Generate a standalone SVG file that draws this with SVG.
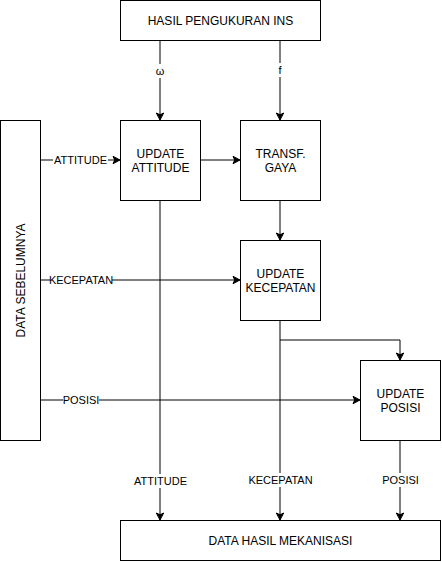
<svg xmlns="http://www.w3.org/2000/svg" width="442" height="562" viewBox="0 0 442 562">
<style>
.box{fill:#fff;stroke:#000;stroke-width:1}
.t{font-family:"Liberation Sans",Arial,sans-serif;font-size:12px;fill:#000;text-anchor:middle}
.l{font-family:"Liberation Sans",Arial,sans-serif;font-size:11px;fill:#000;text-anchor:middle}
.c{fill:none;stroke:#000;stroke-width:1}
.bg{fill:#fff}
</style>
<defs>
<marker id="ar" markerUnits="userSpaceOnUse" markerWidth="10" markerHeight="10" viewBox="-8 -5 9 10" refX="0" refY="0" orient="auto">
<path d="M0,0 L-7,-3.7 L-5.3,0 L-7,3.7 Z" fill="#000" stroke="#000" stroke-width="1"/>
</marker>
</defs>
<g id="connectors">
<path class="c" d="M160,40 V120" marker-end="url(#ar)"/>
<path class="c" d="M280,40 V120" marker-end="url(#ar)"/>
<path class="c" d="M40,160 H120" marker-end="url(#ar)"/>
<path class="c" d="M200,160 H240" marker-end="url(#ar)"/>
<path class="c" d="M280,200 V240" marker-end="url(#ar)"/>
<path class="c" d="M40,280 H240" marker-end="url(#ar)"/>
<path class="c" d="M40,400 H360" marker-end="url(#ar)"/>
<path class="c" d="M160,200 V520" marker-end="url(#ar)"/>
<path class="c" d="M280,320 V520" marker-end="url(#ar)"/>
<path class="c" d="M280,340 H400 V360" marker-end="url(#ar)"/>
<path class="c" d="M400,440 V520" marker-end="url(#ar)"/>
<rect class="bg" x="155" y="64" width="10" height="14"/>
<text class="l" x="160" y="75">ω</text>
<rect class="bg" x="277" y="63" width="6" height="14"/>
<text class="l" x="280" y="74">f</text>
<rect class="bg" x="53" y="153" width="55" height="14"/>
<text class="l" x="80.5" y="164">ATTITUDE</text>
<rect class="bg" x="50" y="273" width="62" height="14"/>
<text class="l" x="81" y="284">KECEPATAN</text>
<rect class="bg" x="63" y="393" width="36" height="14"/>
<text class="l" x="81" y="404">POSISI</text>
<rect class="bg" x="133" y="474" width="55" height="14"/>
<text class="l" x="160.5" y="485">ATTITUDE</text>
<rect class="bg" x="249" y="473" width="63" height="14"/>
<text class="l" x="280.5" y="484">KECEPATAN</text>
<rect class="bg" x="382" y="473" width="36" height="14"/>
<text class="l" x="400.5" y="484">POSISI</text>
</g>
<g id="hasil-pengukuran-ins">
<rect class="box" x="120.5" y="0.5" width="200" height="40"/>
<text class="t" x="220.5" y="25">HASIL PENGUKURAN INS</text>
</g>
<g id="update-attitude">
<rect class="box" x="120.5" y="120.5" width="80" height="80"/>
<text class="t" x="160.5" y="158">UPDATE</text>
<text class="t" x="160.5" y="172">ATTITUDE</text>
</g>
<g id="transf-gaya">
<rect class="box" x="240.5" y="120.5" width="80" height="80"/>
<text class="t" x="280.5" y="158">TRANSF.</text>
<text class="t" x="280.5" y="172">GAYA</text>
</g>
<g id="update-kecepatan">
<rect class="box" x="240.5" y="240.5" width="80" height="80"/>
<text class="t" x="280.5" y="278">UPDATE</text>
<text class="t" x="280.5" y="292">KECEPATAN</text>
</g>
<g id="update-posisi">
<rect class="box" x="360.5" y="360.5" width="80" height="80"/>
<text class="t" x="400.5" y="398">UPDATE</text>
<text class="t" x="400.5" y="412">POSISI</text>
</g>
<g id="data-sebelumnya">
<rect class="box" x="0.5" y="120.5" width="40" height="320"/>
<text class="t" transform="translate(24.5,280.5) rotate(-90)" x="0" y="0">DATA SEBELUMNYA</text>
</g>
<g id="data-hasil-mekanisasi">
<rect class="box" x="120.5" y="520.5" width="320" height="40"/>
<text class="t" x="280.5" y="545">DATA HASIL MEKANISASI</text>
</g>
</svg>
